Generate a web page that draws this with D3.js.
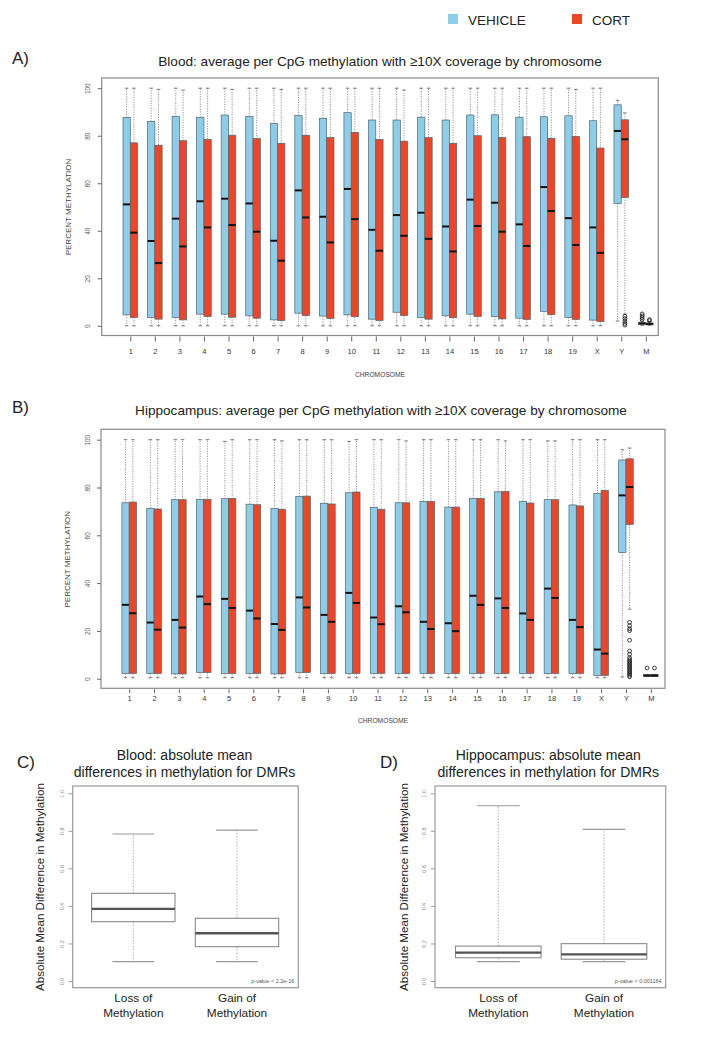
<!DOCTYPE html>
<html>
<head>
<meta charset="utf-8">
<script src="https://cdn.jsdelivr.net/npm/d3@7"></script>
<style>
  html, body { margin: 0; padding: 0; background: #fff; }
  svg { display: block; }
</style>
</head>
<body>
<script>
// ---------------- DATA ----------------
const chromosomes = ["1","2","3","4","5","6","7","8","9","10","11","12","13","14","15","16","17","18","19","X","Y","M"];
const seriesNames = ["VEHICLE", "CORT"];

// Panel A: Blood
const bloodVehQ3  = [87.7,86.0,88.1,87.7,88.7,88.1,85.1,88.5,87.3,89.7,86.6,86.6,87.8,86.6,88.7,88.8,87.8,88.0,88.4,86.3,93.0,1.5];
const bloodVehMed = [51.1,35.7,45.1,52.4,53.5,51.5,35.8,57.0,45.9,57.6,40.4,46.6,47.6,41.8,53.1,51.8,42.7,58.4,45.3,41.4,82.0,1.0];
const bloodVehQ1  = [4.6,3.5,3.5,4.9,4.9,4.2,2.5,5.3,4.1,4.6,2.8,5.7,3.5,4.2,4.9,3.9,3.2,6.1,3.5,2.4,51.5,0.5];
const bloodVehHi  = [100,100,100,100,100,100,100,100,100,100,100,100,100,100,100,100,100,100,100,100,94.9,2.0];
const bloodVehLo  = [0,0,0,0,0,0,0,0,0,0,0,0,0,0,0,0,0,0,0,0,2.0,0.2];
const bloodCortQ3  = [77.0,76.0,77.9,78.5,80.2,78.8,76.8,80.2,79.2,81.4,78.4,77.7,79.2,76.8,80.0,79.2,79.6,78.9,79.7,74.8,86.7,1.2];
const bloodCortMed = [39.2,26.4,33.4,41.4,42.4,39.6,27.4,45.6,35.1,44.9,31.6,37.9,36.6,31.3,42.0,39.6,33.6,48.3,34.0,30.7,78.5,0.8];
const bloodCortQ1  = [3.5,2.8,2.5,3.9,3.6,3.2,2.2,4.3,3.1,3.8,2.2,4.3,2.8,3.4,3.9,2.9,2.7,4.7,2.7,1.8,54.0,0.4];
const bloodCortHi  = [100,99.5,99.2,100,99.5,100,99.5,100,100,100,100,99.2,100,100,100,100,100,100,99.5,100,89.6,1.8];
const bloodCortLo  = [0,0,0,0,0,0,0,0,0,0,0,0,0,0,0,0,0,0,0,0,5.0,0.2];
const bloodVehOut  = {M: [5.0,4.2,3.4,2.6]};
const bloodCortOut = {Y: [4.0,3.0,2.0,1.0,0.3], M: [2.6,2.2]};

// Panel B: Hippocampus
const hippoVehQ3  = [73.6,71.3,74.9,75.0,75.3,73.0,71.2,76.3,73.4,77.8,71.6,73.6,74.2,71.8,75.4,78.2,74.2,74.9,72.7,77.5,91.5,1.8];
const hippoVehMed = [30.9,23.5,24.6,34.4,33.4,28.5,22.9,34.0,26.7,35.9,25.6,30.3,23.8,23.2,34.7,33.6,27.3,37.7,24.6,12.2,76.7,1.3];
const hippoVehQ1  = [2.2,2.2,2.0,2.6,2.2,2.2,2.0,2.6,2.2,2.2,2.2,2.2,2.2,2.2,2.2,2.2,2.2,2.2,2.2,1.4,52.8,1.0];
const hippoVehHi  = [100,100,100,100,99.3,100,100,100,100,99.3,100,100,100,100,100,100,100,99.5,100,100,95.8,1.8];
const hippoVehLo  = [0.4,0.4,0.4,0.4,0.4,0.4,0.4,0.4,0.4,0.4,0.4,0.4,0.4,0.4,0.4,0.4,0.4,0.4,0.4,0.4,0.7,1.0];
const hippoCortQ3  = [73.9,71.0,74.9,75.0,75.4,72.8,70.9,76.4,73.1,78.1,70.9,73.6,74.2,71.8,75.4,78.4,73.5,74.9,72.3,78.8,92.0,1.8];
const hippoCortMed = [27.4,20.5,21.4,31.2,29.6,25.2,20.4,29.8,23.8,31.7,22.8,27.8,20.8,19.9,30.9,29.6,24.6,33.8,21.6,10.5,80.2,1.3];
const hippoCortQ1  = [2.2,2.2,2.0,2.6,2.2,2.2,2.0,2.6,2.2,2.2,2.2,2.2,2.2,2.2,2.2,2.2,2.2,2.2,2.2,1.4,64.5,1.0];
const hippoCortHi  = [100,100,100,100,100,100,99.5,100,100,100,100,99.5,100,100,100,99.5,100,99.5,100,100,96.5,1.8];
const hippoCortLo  = [0.4,0.4,0.4,0.4,0.4,0.4,0.4,0.4,0.4,0.4,0.4,0.4,0.4,0.4,0.4,0.4,0.4,0.4,0.4,0.4,29.1,1.0];
const hippoVehOut  = {M: [4.5]};
const hippoCortOut = {Y: [23.6,22.2,20.9,20.1,16.1,11.6,10.2,8.8,8.0,7.4,6.8,6.2,5.6,5.0,4.4,3.8,3.2,2.6,2.0,1.4,0.8], M: [4.5]};

const yTicksPct = [0,20,40,60,80,100];

// Panels C / D: DMR absolute mean differences
const dmrGroups = ["Loss of|Methylation", "Gain of|Methylation"];
const bloodDmrLo  = [0.103, 0.103];
const bloodDmrQ1  = [0.316, 0.183];
const bloodDmrMed = [0.384, 0.254];
const bloodDmrQ3  = [0.467, 0.334];
const bloodDmrHi  = [0.783, 0.804];
const hippoDmrLo  = [0.103, 0.103];
const hippoDmrQ1  = [0.124, 0.116];
const hippoDmrMed = [0.151, 0.142];
const hippoDmrQ3  = [0.186, 0.199];
const hippoDmrHi  = [0.934, 0.808];
const dmrTicks = [0, 0.2, 0.4, 0.6, 0.8, 1.0];

// ---------------- DRAW ----------------
const W = 728, H = 1041;
const FONT = "'Liberation Sans', Arial, Helvetica, sans-serif";
const BLUE = "#8cceea", RED = "#ef4526";
const svg = d3.select("body").append("svg")
  .attr("width", W).attr("height", H)
  .style("font-family", FONT);
svg.append("rect").attr("width", W).attr("height", H).attr("fill", "#fff");

// Legend
const legend = svg.append("g");
[[448, BLUE, "VEHICLE", 468], [572, RED, "CORT", 592]].forEach(([sx, col, txt, tx]) => {
  legend.append("rect").attr("x", sx).attr("y", 14).attr("width", 10).attr("height", 10).attr("fill", col);
  legend.append("text").attr("x", tx).attr("y", 25).attr("font-size", 13.5).attr("fill", "#222").text(txt);
});

function chromPanel(cfg) {
  const g = svg.append("g");
  const y = d3.scaleLinear().domain([0, 100]).range(cfg.yRange);
  const x = d3.scalePoint().domain(chromosomes).range(cfg.xRange);
  const bw = 7.3;
  // panel letter and title
  g.append("text").attr("x", 12).attr("y", cfg.titleY + 3).attr("font-size", 17).attr("fill", "#222").text(cfg.letter);
  g.append("text").attr("x", cfg.titleX).attr("y", cfg.titleY + 5).attr("text-anchor", "middle")
    .attr("font-size", 13.6).attr("fill", "#222").text(cfg.title);
  // frame
  g.append("rect").attr("x", cfg.box[0]).attr("y", cfg.box[1])
    .attr("width", cfg.box[2] - cfg.box[0]).attr("height", cfg.box[3] - cfg.box[1])
    .attr("fill", "none").attr("stroke", "#8a8a8a").attr("stroke-width", 1.2);

  const series = [
    {q1: cfg.vq1, med: cfg.vmed, q3: cfg.vq3, lo: cfg.vlo, hi: cfg.vhi, out: cfg.vout, fill: BLUE, off: -bw},
    {q1: cfg.cq1, med: cfg.cmed, q3: cfg.cq3, lo: cfg.clo, hi: cfg.chi, out: cfg.cout, fill: RED, off: 0}
  ];
  series.forEach(s => {
    const sg = g.append("g");
    chromosomes.forEach((c, i) => {
      const x0 = x(c) + s.off, xc = x0 + bw / 2;
      // whiskers
      sg.append("line").attr("x1", xc).attr("x2", xc).attr("y1", y(s.q3[i])).attr("y2", y(s.hi[i]))
        .attr("stroke", "#777").attr("stroke-width", 0.8).attr("stroke-dasharray", "1.2,1.3");
      sg.append("line").attr("x1", xc).attr("x2", xc).attr("y1", y(s.q1[i])).attr("y2", y(s.lo[i]))
        .attr("stroke", "#777").attr("stroke-width", 0.8).attr("stroke-dasharray", "1.2,1.3");
      [s.hi[i], s.lo[i]].forEach(v => {
        sg.append("line").attr("x1", xc - 1.8).attr("x2", xc + 1.8).attr("y1", y(v)).attr("y2", y(v))
          .attr("stroke", "#666").attr("stroke-width", 0.9);
      });
      // box
      sg.append("rect").attr("x", x0).attr("y", y(s.q3[i])).attr("width", bw)
        .attr("height", Math.max(0.8, y(s.q1[i]) - y(s.q3[i])))
        .attr("fill", s.fill).attr("stroke", "#4f6470").attr("stroke-width", 0.7);
      // median
      sg.append("line").attr("x1", x0).attr("x2", x0 + bw).attr("y1", y(s.med[i])).attr("y2", y(s.med[i]))
        .attr("stroke", "#111").attr("stroke-width", 2);
      // outliers
      (s.out[c] || []).forEach(v => {
        sg.append("circle").attr("cx", xc).attr("cy", y(v)).attr("r", 1.9)
          .attr("fill", "none").attr("stroke", "#111").attr("stroke-width", 0.8);
      });
    });
  });

  // y axis
  const ya = g.append("g").attr("transform", `translate(${cfg.box[0]},0)`)
    .call(d3.axisLeft(y).tickValues(yTicksPct).tickSize(4).tickFormat(d3.format("d")));
  ya.select(".domain").remove();
  ya.selectAll("line").attr("stroke", "#666");
  ya.selectAll("text").attr("x", null).attr("dy", "0.35em").attr("font-size", 6.5).attr("fill", "#555")
    .attr("font-family", FONT).attr("text-anchor", "middle")
    .attr("transform", "translate(-13.5,0) rotate(-90)");
  g.append("text").attr("transform", `translate(${cfg.yTitleX},${(cfg.yRange[0] + cfg.yRange[1]) / 2}) rotate(-90)`)
    .attr("text-anchor", "middle").attr("dy", "0.35em").attr("font-size", 8).attr("fill", "#444")
    .text("PERCENT METHYLATION");

  // x axis
  const xa = g.append("g").attr("transform", `translate(0,${cfg.box[3] + 1})`)
    .call(d3.axisBottom(x).tickSize(cfg.tickSize).tickPadding(cfg.tickPad));
  xa.select(".domain").remove();
  xa.selectAll("line").attr("stroke", "#666");
  xa.selectAll("text").attr("font-size", 7.5).attr("fill", "#333").attr("font-family", FONT);
  g.append("text").attr("x", cfg.xTitleX).attr("y", cfg.xTitleY).attr("text-anchor", "middle")
    .attr("dy", "0.35em").attr("font-size", 6.7).attr("fill", "#444").text("CHROMOSOME");
}

chromPanel({
  letter: "A)", title: "Blood: average per CpG methylation with \u226510X coverage by chromosome",
  titleX: 380, titleY: 61,
  box: [101.7, 78, 658.3, 335.5], yRange: [325.8, 88.2], xRange: [130.3, 645.8],
  yTitleX: 68, xTitleX: 380, xTitleY: 375, tickSize: 5, tickPad: 7,
  vq1: bloodVehQ1, vmed: bloodVehMed, vq3: bloodVehQ3, vlo: bloodVehLo, vhi: bloodVehHi, vout: bloodVehOut,
  cq1: bloodCortQ1, cmed: bloodCortMed, cq3: bloodCortQ3, clo: bloodCortLo, chi: bloodCortHi, cout: bloodCortOut
});
chromPanel({
  letter: "B)", title: "Hippocampus: average per CpG methylation with \u226510X coverage by chromosome",
  titleX: 381, titleY: 410,
  box: [101, 429.3, 665, 688.3], yRange: [678.7, 439.7], xRange: [129.2, 650.8],
  yTitleX: 66.7, xTitleX: 383, xTitleY: 721, tickSize: 4, tickPad: 2,
  vq1: hippoVehQ1, vmed: hippoVehMed, vq3: hippoVehQ3, vlo: hippoVehLo, vhi: hippoVehHi, vout: hippoVehOut,
  cq1: hippoCortQ1, cmed: hippoCortMed, cq3: hippoCortQ3, clo: hippoCortLo, chi: hippoCortHi, cout: hippoCortOut
});

function dmrPanel(cfg) {
  const g = svg.append("g");
  const y = d3.scaleLinear().domain([0, 1]).range([981, 793.3]);
  const x = d3.scalePoint().domain(dmrGroups).range(cfg.xRange);
  g.append("text").attr("x", cfg.letterX).attr("y", 768).attr("font-size", 17).attr("fill", "#222").text(cfg.letter);
  cfg.title.forEach((t, i) => {
    g.append("text").attr("x", cfg.titleX).attr("y", 760 + i * 17).attr("text-anchor", "middle")
      .attr("font-size", 14).attr("fill", "#222").text(t);
  });
  g.append("rect").attr("x", cfg.box[0]).attr("y", 786).attr("width", cfg.box[1] - cfg.box[0]).attr("height", 201.7)
    .attr("fill", "none").attr("stroke", "#9a9a9a").attr("stroke-width", 1.2);
  dmrGroups.forEach((grp, i) => {
    const xc = x(grp), hw = cfg.halfW;
    const wl = (a, b) => g.append("line").attr("x1", xc).attr("x2", xc).attr("y1", y(a)).attr("y2", y(b))
      .attr("stroke", "#999").attr("stroke-width", 0.8).attr("stroke-dasharray", "1.5,1.5");
    wl(cfg.q3[i], cfg.hi[i]); wl(cfg.q1[i], cfg.lo[i]);
    [cfg.hi[i], cfg.lo[i]].forEach(v => g.append("line").attr("x1", xc - hw / 2).attr("x2", xc + hw / 2)
      .attr("y1", y(v)).attr("y2", y(v)).attr("stroke", "#999").attr("stroke-width", 1.1));
    g.append("rect").attr("x", xc - hw).attr("y", y(cfg.q3[i])).attr("width", 2 * hw)
      .attr("height", y(cfg.q1[i]) - y(cfg.q3[i])).attr("fill", "#fff").attr("stroke", "#8a8a8a").attr("stroke-width", 1.1);
    g.append("line").attr("x1", xc - hw).attr("x2", xc + hw).attr("y1", y(cfg.med[i])).attr("y2", y(cfg.med[i]))
      .attr("stroke", "#555").attr("stroke-width", 2.4);
  });
  const ya = g.append("g").attr("transform", `translate(${cfg.box[0]},0)`)
    .call(d3.axisLeft(y).tickValues(dmrTicks).tickSize(4).tickFormat(d3.format(".1f")));
  ya.select(".domain").remove();
  ya.selectAll("line").attr("stroke", "#999");
  ya.selectAll("text").attr("x", null).attr("dy", "0.35em").attr("font-size", 5.5).attr("fill", "#888")
    .attr("font-family", FONT).attr("text-anchor", "middle").attr("transform", "translate(-11,0) rotate(-90)");
  g.append("text").attr("transform", `translate(${cfg.yTitleX},887) rotate(-90)`).attr("text-anchor", "middle")
    .attr("dy", "0.35em").attr("font-size", 11.6).attr("fill", "#222").text("Absolute Mean Difference in Methylation");
  const xa = g.append("g").attr("transform", "translate(0,988)").call(d3.axisBottom(x).tickSize(0).tickFormat(""));
  xa.select(".domain").remove();
  dmrGroups.forEach(grp => {
    grp.split("|").forEach((ln, j) => {
      g.append("text").attr("x", x(grp)).attr("y", 1002 + j * 15).attr("text-anchor", "middle")
        .attr("font-size", 11.8).attr("fill", "#222").text(ln);
    });
  });
  g.append("text").attr("x", cfg.box[1] - 4).attr("y", 983).attr("text-anchor", "end")
    .attr("font-size", 5.5).attr("fill", "#555").text(cfg.pval);
}

dmrPanel({
  letter: "C)", letterX: 17, title: ["Blood: absolute mean", "differences in methylation for DMRs"], titleX: 184.5,
  box: [72.7, 298.3], xRange: [133.3, 237], halfW: 41.7, yTitleX: 40,
  lo: bloodDmrLo, q1: bloodDmrQ1, med: bloodDmrMed, q3: bloodDmrQ3, hi: bloodDmrHi, pval: "p-value < 2.2e-16"
});
dmrPanel({
  letter: "D)", letterX: 380, title: ["Hippocampus: absolute mean", "differences in methylation for DMRs"], titleX: 548.3,
  box: [435, 665.7], xRange: [498.3, 604], halfW: 42.8, yTitleX: 404,
  lo: hippoDmrLo, q1: hippoDmrQ1, med: hippoDmrMed, q3: hippoDmrQ3, hi: hippoDmrHi, pval: "p-value < 0.001164"
});
</script>
</body>
</html>
